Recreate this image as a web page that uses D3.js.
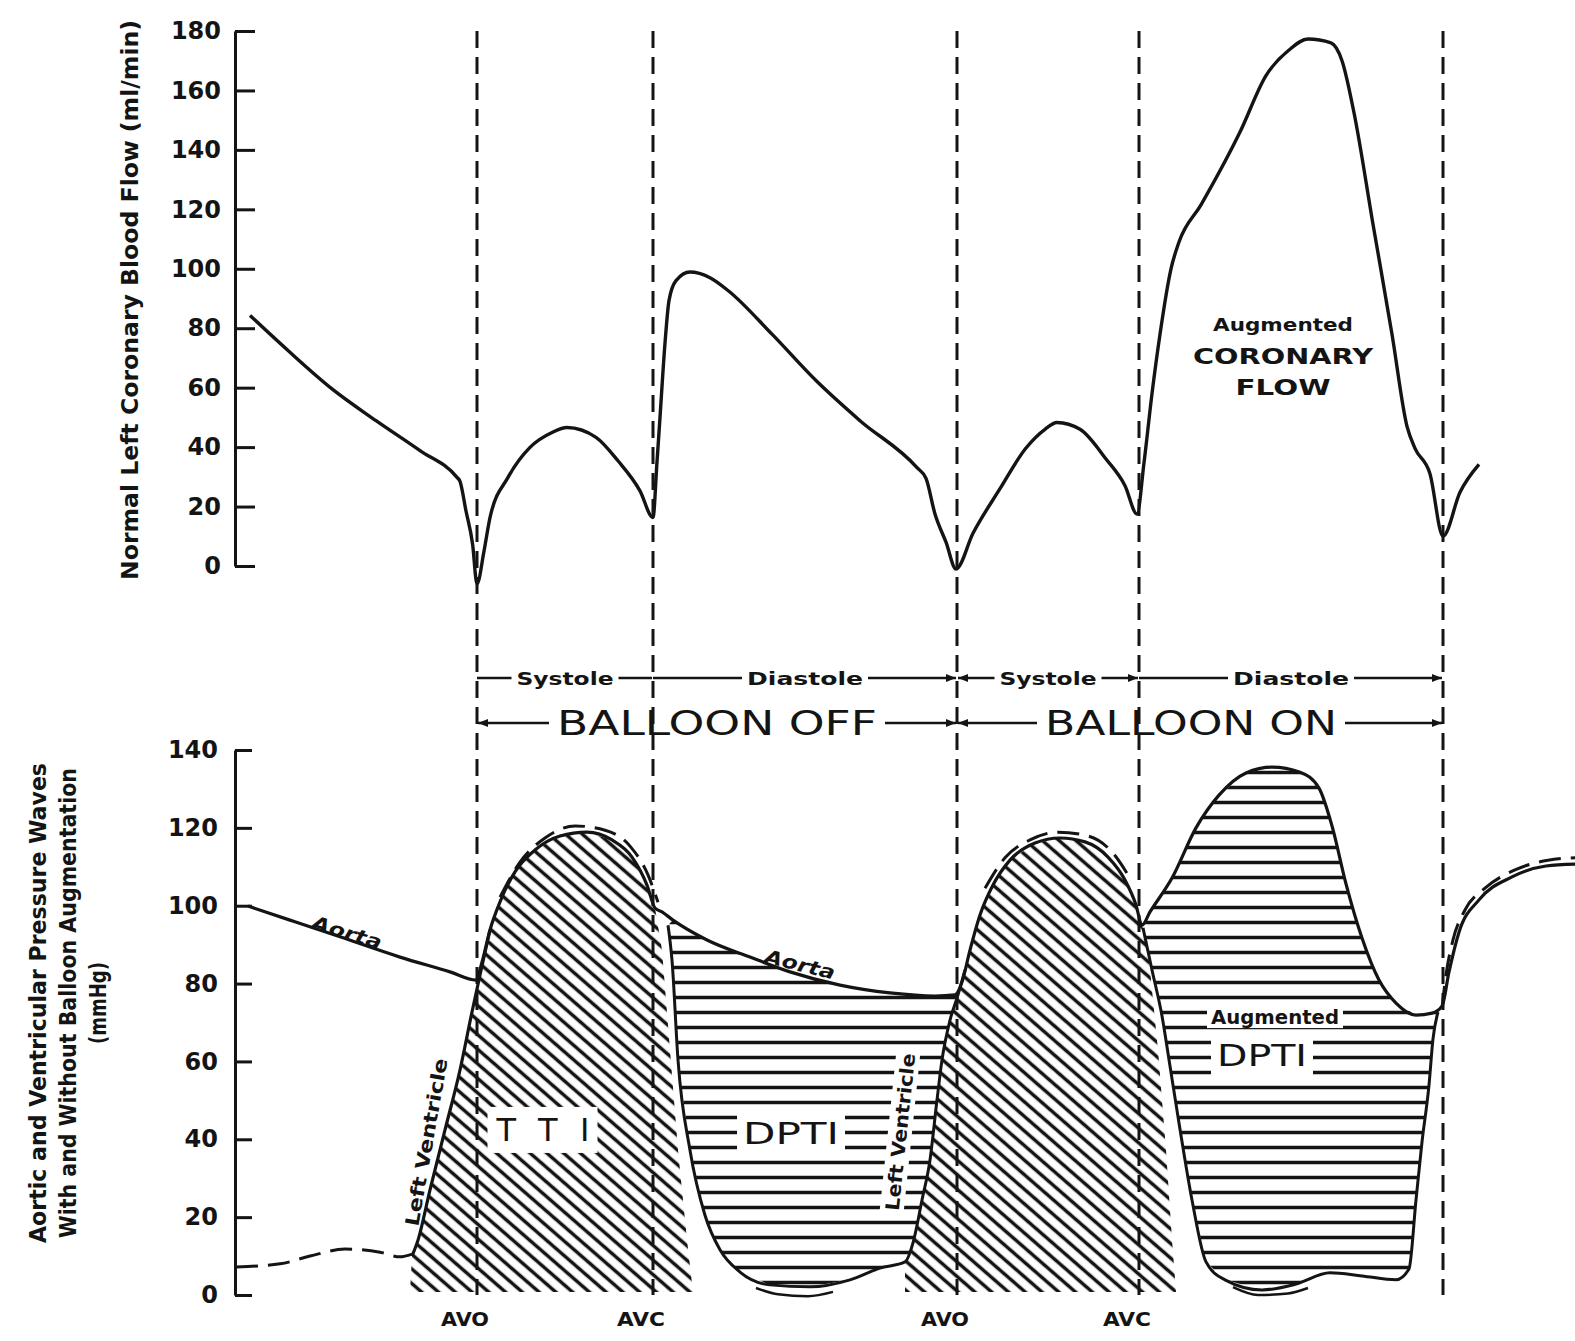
<!DOCTYPE html>
<html>
<head>
<meta charset="utf-8">
<script src="https://cdn.jsdelivr.net/npm/d3@7"></script>
<style>
  body { margin: 0; background: #fff; }
</style>
</head>
<body>
<div id="chart"></div>
<script>
// time in ms from the left end of the traces
const events = [229, 405, 709, 891, 1195];
const valveLabels = ["AVO", "AVC", "AVO", "AVC"];
const phaseNames = ["Systole", "Diastole", "Systole", "Diastole"];
const balloonNames = ["BALLOON OFF", "BALLOON ON"];
const flowTicks = [0, 20, 40, 60, 80, 100, 120, 140, 160, 180];
const pressureTicks = [0, 20, 40, 60, 80, 100, 120, 140];

// left coronary flow, ml/min
const coronaryFlow = [[2,84.3],[40,72.5],[84,59.6],[128,48.9],[172,38.8],[209,29.8],[212,28.5],[218,18.5],[224.6,7.3],[229,-6],[236,5],[242,16.3],[260,29.8],[282,39.9],[304,44.9],[319,46.6],[348,43.3],[370,35.4],[392,25.3],[405,16.3],[409,35],[412,50],[417,75],[421,89.3],[428,96],[442,98.9],[462,97],[480,92.7],[524,78],[568,62.4],[612,48.9],[669,33.1],[678,29.5],[687,17.5],[698,8],[708,-1],[725,11],[752,26],[778,39.7],[797,46],[809,48.3],[832,46],[858,36],[877,27],[889,17.5],[896,34.7],[904,58],[912,78],[923,100],[931,109],[953,121.5],[992,146],[1018,165],[1041,173.6],[1060,177.3],[1083,176],[1094,170],[1106,152.5],[1125,115],[1144,78],[1159,47],[1167,39.6],[1182,31],[1195,10],[1212,24.8],[1231,34.2]];

// aortic pressure, mmHg
const aorticPressure = [[0,99.9],[42,96.3],[92,92],[152,86.8],[202,83],[228,80.9],[234,85.5],[242,93.8],[252,101],[267,108.7],[287,114.3],[312,117.9],[339,118.9],[364,116.9],[384,112.5],[399,105.3],[407,99.4],[414,98.4],[425,96.3],[459,91.2],[502,86.8],[542,83],[592,79.6],[642,77.6],[687,76.8],[707,77.1],[714,80.4],[722,88.6],[732,97.6],[745,105.3],[762,111.7],[787,116.1],[812,117.4],[837,116.4],[860,112.5],[877,106.6],[888,100.2],[894,95],[902,98.4],[924,107.1],[948,120],[971,128.4],[998,134.1],[1024,135.6],[1052,134.3],[1071,130.2],[1084,120.5],[1098,105.6],[1114,91.7],[1131,80.9],[1148,75],[1168,71.9],[1184,72.4],[1194,74.2],[1201,83],[1211,93.2],[1231,101.5],[1264,107.4],[1298,110.2],[1327,110.7]];

// left ventricular pressure, mmHg
const lvBefore = [[-12,7.2],[32,8],[62,10],[97,11.8],[132,11],[152,9.8],[164,10.5]];
const lvRise = [[164,10],[170,14.1],[182,27],[197,42.4],[212,57.8],[224,72.7],[232,82.2],[242,93.8]];
const lvSystole1 = [[252,102.2],[272,111.2],[297,117.4],[327,120.5],[357,119.4],[382,115.3],[400,107.9],[410,100.9]];
const lvSystole2 = [[737,104.5],[757,112.3],[782,116.9],[810,118.9],[840,117.9],[864,113.8],[882,107.1]];
const lvDiastole1 = [[420,95],[424,86],[430,60.4],[442,37.2],[457,20.5],[472,11.6],[492,5.9],[522,2.6],[562,2.1],[602,3.9],[632,6.9],[657,8.5],[665,13.4],[674,24.4],[682,34.7],[689,50.1],[694,60.4],[702,70.6],[710,77.1],[717,83.5]];
const lvDiastole2 = [[895,94.3],[904,83.5],[914,71.7],[922,58.8],[931,44.2],[944,24.4],[958,8.5],[977,3.9],[1014,1.3],[1048,2.8],[1082,5.7],[1114,4.9],[1148,3.9],[1161,6.7],[1168,24.4],[1174,39.3],[1181,53.9],[1185,65.8],[1190,72.7]];
const lvAfter = [[1194,73.7],[1198,82.2],[1205,91.2],[1217,98.9],[1237,104.5],[1267,109.2],[1300,111.7],[1327,112.3]];
const lvDip1 = [[508,1.8],[530,0.2],[560,-0.3],[585,0.8]];
const lvDip2 = [[985,2],[1010,0],[1040,0.4],[1060,1.8]];

// outer edge of the tension-time hatching
const ttiEdge1 = [[414,88.6],[422,62.9],[430,37.2],[439,14.1],[445,0.8],[162,0.8]];
const ttiEdge2 = [[900,88.6],[910,62.9],[918,37.2],[924,14.1],[928,0.8],[657,0.8]];

const W = 1575, H = 1341;
const ink = "#141414";
const axisX = 235;

const svg = d3.select("#chart").append("svg")
  .attr("width", W)
  .attr("height", H)
  .style("font-family", "'DejaVu Sans', sans-serif");

svg.append("rect").attr("width", W).attr("height", H).attr("fill", "#fff");

const x = d3.scaleLinear().domain([0, 1327]).range([248, 1575]);
const yFlow = d3.scaleLinear().domain([0, 180]).range([566, 31]);
const yPress = d3.scaleLinear().domain([0, 140]).range([1295, 750]);

// hatch patterns
const defs = svg.append("defs");
defs.append("pattern")
  .attr("id", "diag")
  .attr("patternUnits", "userSpaceOnUse")
  .attr("width", 20).attr("height", 11)
  .attr("patternTransform", "rotate(41)")
  .append("line")
  .attr("x1", 0).attr("x2", 20).attr("y1", 5.5).attr("y2", 5.5)
  .attr("stroke", ink).attr("stroke-width", 3.5);
defs.append("pattern")
  .attr("id", "horiz")
  .attr("patternUnits", "userSpaceOnUse")
  .attr("width", 20).attr("height", 15)
  .append("line")
  .attr("x1", 0).attr("x2", 20).attr("y1", 7.5).attr("y2", 7.5)
  .attr("stroke", ink).attr("stroke-width", 3.5);
defs.append("marker")
  .attr("id", "arrow")
  .attr("viewBox", "0 0 10 10")
  .attr("refX", 10).attr("refY", 5)
  .attr("markerWidth", 16).attr("markerHeight", 10)
  .attr("markerUnits", "userSpaceOnUse")
  .attr("orient", "auto-start-reverse")
  .append("path").attr("d", "M0,1 L10,5 L0,9 Z").attr("fill", ink);

const between = (arr, a, b) => arr.filter(d => d[0] >= a && d[0] <= b);

const tti1 = [...lvRise, ...between(aorticPressure, 243, 407), ...ttiEdge1];
const tti2 = [...between(lvDiastole1, 657, 717), ...between(aorticPressure, 722, 894), ...ttiEdge2];
const dpti1 = [...between(aorticPressure, 420, 709), ...between(lvDiastole1, 420, 710).reverse()];
const dpti2 = [...between(aorticPressure, 894, 1192), ...between(lvDiastole2, 895, 1190).reverse()];

const pressLine = d3.line().x(d => x(d[0])).y(d => yPress(d[1])).curve(d3.curveMonotoneX);
const flowLine = d3.line().x(d => x(d[0])).y(d => yFlow(d[1])).curve(d3.curveMonotoneX);
const region = d3.line().x(d => x(d[0])).y(d => yPress(d[1])).curve(d3.curveLinearClosed);

// hatched areas
svg.append("path").attr("d", region(tti1)).attr("fill", "url(#diag)");
svg.append("path").attr("d", region(tti2)).attr("fill", "url(#diag)");
svg.append("path").attr("d", region(dpti1)).attr("fill", "url(#horiz)");
svg.append("path").attr("d", region(dpti2)).attr("fill", "url(#horiz)");

const labels = svg.append("g").attr("fill", ink);

function addLabel(txt, cx, cy, opts) {
  const o = Object.assign({size: 20, weight: "bold", angle: 0, family: null, knock: null, len: null, adjust: "spacingAndGlyphs", style: null}, opts);
  const g = labels.append("g").attr("transform", `translate(${cx},${cy}) rotate(${o.angle})`);
  const t = g.append("text")
    .attr("text-anchor", "middle")
    .attr("dominant-baseline", "central")
    .attr("font-size", o.size)
    .attr("font-weight", o.weight)
    .text(txt);
  if (o.family) t.attr("font-family", o.family);
  if (o.style) t.attr("font-style", o.style);
  if (o.len) t.attr("textLength", o.len).attr("lengthAdjust", o.adjust);
  if (o.knock) {
    const b = t.node().getBBox();
    g.insert("rect", "text")
      .attr("x", b.x - o.knock[0]).attr("y", b.y - o.knock[1])
      .attr("width", b.width + 2 * o.knock[0]).attr("height", b.height + 2 * o.knock[1])
      .attr("fill", "#fff");
  }
  return t;
}

// event lines
svg.append("g").selectAll("line").data(events).join("line")
  .attr("x1", d => x(d)).attr("x2", d => x(d))
  .attr("y1", yFlow(180)).attr("y2", yPress(0))
  .attr("stroke", ink).attr("stroke-width", 3).attr("stroke-dasharray", "17 9");

// traces
const traces = svg.append("g").attr("fill", "none").attr("stroke", ink).attr("stroke-linejoin", "round");
traces.append("path").attr("d", flowLine(coronaryFlow)).attr("stroke-width", 3.4);
traces.append("path").attr("d", pressLine(aorticPressure)).attr("stroke-width", 3.2);
traces.append("path").attr("d", pressLine(lvRise)).attr("stroke-width", 3.2);
traces.append("path").attr("d", pressLine(lvDiastole1)).attr("stroke-width", 3);
traces.append("path").attr("d", pressLine(lvDiastole2)).attr("stroke-width", 3);
traces.append("path").attr("d", pressLine(lvDip1)).attr("stroke-width", 2.5);
traces.append("path").attr("d", pressLine(lvDip2)).attr("stroke-width", 2.5);
[lvBefore, lvSystole1, lvSystole2, lvAfter].forEach(s => {
  traces.append("path").attr("d", pressLine(s)).attr("stroke-width", 3).attr("stroke-dasharray", "22 10");
});

// axes
function styleAxis(g) {
  g.attr("font-family", "'DejaVu Sans', sans-serif").attr("font-size", 24).attr("font-weight", "bold");
  g.select(".domain").attr("stroke", ink).attr("stroke-width", 3);
  g.selectAll(".tick line").attr("stroke", ink).attr("stroke-width", 3);
  g.selectAll(".tick text").attr("fill", ink);
}
svg.append("g").attr("transform", `translate(${axisX},0)`)
  .call(d3.axisLeft(yFlow).tickValues(flowTicks).tickSizeInner(-20).tickSizeOuter(0).tickPadding(14))
  .call(styleAxis);
svg.append("g").attr("transform", `translate(${axisX},0)`)
  .call(d3.axisLeft(yPress).tickValues(pressureTicks).tickSizeInner(-17).tickSizeOuter(0).tickPadding(17))
  .call(styleAxis);

// axis titles
const narrow = "'Liberation Sans Narrow', 'DejaVu Sans Condensed', sans-serif";
addLabel("Normal Left Coronary Blood Flow (ml/min)", 130, 300, {angle: -90, size: 23, family: narrow, len: 560});
addLabel("Aortic and Ventricular Pressure Waves", 38, 1003, {angle: -90, size: 23, family: narrow, len: 480});
addLabel("With and Without Balloon Augmentation", 68, 1003, {angle: -90, size: 23, family: narrow, len: 470});
addLabel("(mmHg)", 98, 1003, {angle: -90, size: 23, family: narrow, len: 82});

// valve events
valveLabels.forEach((v, i) => addLabel(v, x(events[i]) - 12, 1319, {size: 20, len: 48}));

// phase row
const rowPhase = 678, rowBalloon = 723;
const ann = svg.append("g").attr("stroke", ink).attr("stroke-width", 2.5);
const phaseWidths = [97, 116, 97, 116];
phaseNames.forEach((p, i) => {
  const a = x(events[i]), b = x(events[i + 1]);
  const mid = (a + b) / 2, w = phaseWidths[i];
  addLabel(p, mid, rowPhase, {size: 18, len: w});
  const left = ann.append("line").attr("x1", a).attr("x2", mid - w / 2 - 5).attr("y1", rowPhase).attr("y2", rowPhase);
  const right = ann.append("line").attr("x1", mid + w / 2 + 5).attr("x2", b - 1).attr("y1", rowPhase).attr("y2", rowPhase);
  if (i >= 1) right.attr("marker-end", "url(#arrow)");
  if (i === 2) left.attr("x1", a + 1).attr("marker-start", "url(#arrow)");
});

// balloon row
const balloonWidths = [320, 292];
balloonNames.forEach((p, i) => {
  const a = x(events[i * 2]), b = x(events[i * 2 + 2]);
  const mid = (a + b) / 2 - (i ? 9 : 0), w = balloonWidths[i];
  addLabel(p, mid, rowBalloon, {size: 33, weight: "normal", len: w});
  ann.append("line").attr("x1", a + 1).attr("x2", mid - w / 2 - 8).attr("y1", rowBalloon).attr("y2", rowBalloon)
    .attr("marker-start", "url(#arrow)");
  ann.append("line").attr("x1", mid + w / 2 + 8).attr("x2", b - 1).attr("y1", rowBalloon).attr("y2", rowBalloon)
    .attr("marker-end", "url(#arrow)");
});

// labels inside the plots
addLabel("Aorta", x(99), yPress(93.2), {angle: 17, size: 19, style: "italic", len: 72});
addLabel("Aorta", x(552), yPress(85), {angle: 14, size: 19, style: "italic", len: 72});
addLabel("TTI", x(295), yPress(42.4), {size: 32, weight: "normal", len: 93, adjust: "spacing", knock: [8, 4]});
addLabel("DPTI", x(543), yPress(41.6), {size: 31, weight: "normal", len: 96, knock: [6, 2]});
addLabel("Augmented", x(1027), yPress(71.4), {size: 19, len: 128, knock: [4, 0]});
addLabel("DPTI", x(1014), yPress(61.6), {size: 31, weight: "normal", len: 90, knock: [6, 2]});
addLabel("Left Ventricle", x(178), yPress(39.3), {angle: -80, size: 19, family: narrow, len: 170});
addLabel("Left Ventricle", x(652), yPress(41.9), {angle: -84, size: 19, family: narrow, len: 158, knock: [3, 1]});

addLabel("Augmented", x(1035), yFlow(81.1), {size: 17, len: 140});
addLabel("CORONARY", x(1035), yFlow(70.3), {size: 21, len: 180});
addLabel("FLOW", x(1035), yFlow(59.9), {size: 21, len: 95});
</script>
</body>
</html>
